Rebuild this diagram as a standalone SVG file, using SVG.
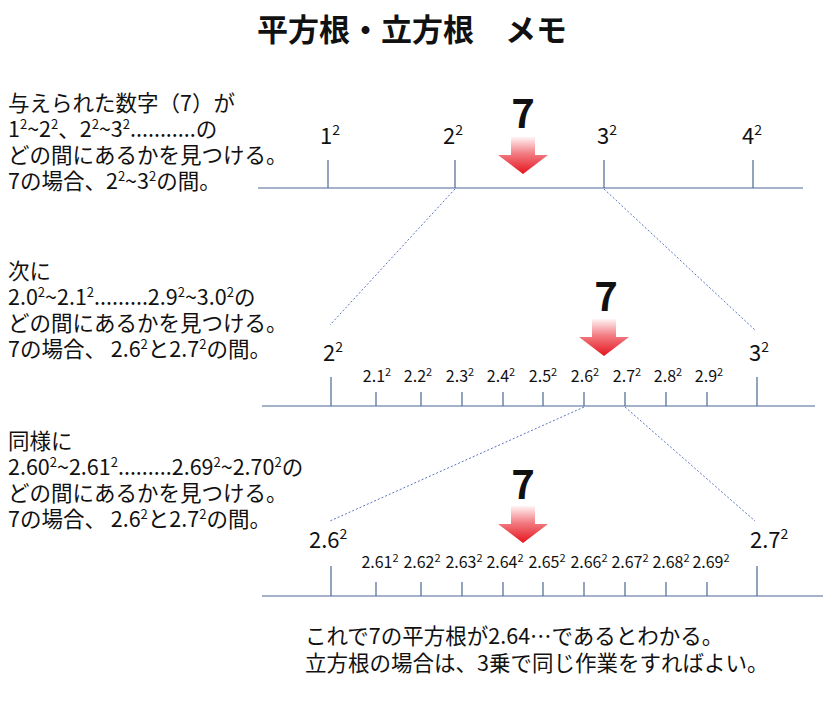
<svg xmlns="http://www.w3.org/2000/svg" width="823" height="704" viewBox="0 0 823 704">
<style>
text{font-family:"Noto Sans CJK JP","Noto Sans",sans-serif;fill:#111}
.title{font-size:31px;font-weight:bold}
.body{font-size:21.5px}
.lab{font-size:22px}
.sm{font-size:16px}
.seven{font-size:40px;font-weight:bold;text-anchor:middle}
.axis{stroke:#4a6896;stroke-width:1.2;fill:none}
.dot{stroke:#5a74c4;stroke-width:1;stroke-dasharray:2 2;fill:none}
</style>
<defs>
<linearGradient id="rg" x1="0" y1="0" x2="0" y2="1">
<stop offset="0" stop-color="#fff4f4"/>
<stop offset="0.45" stop-color="#f27c82"/>
<stop offset="1" stop-color="#e5141e"/>
</linearGradient>
<path id="arrow" d="M-12,0 H12 V18 H25 L0,37 L-25,18 H-12 Z" fill="url(#rg)"/>
</defs>
<rect width="823" height="704" fill="#fff"/>
<text class="title" x="412" y="41" text-anchor="middle">平方根・立方根　メモ</text>

<g id="text1">
<text class="body" x="8" y="111">与えられた数字（7）が</text>
<text class="body" x="8" y="137">1<tspan font-size="13" dy="-8">2</tspan><tspan dy="8">~2</tspan><tspan font-size="13" dy="-8">2</tspan><tspan dy="8">、2</tspan><tspan font-size="13" dy="-8">2</tspan><tspan dy="8">~3</tspan><tspan font-size="13" dy="-8">2</tspan><tspan dy="8">...........の</tspan></text>
<text class="body" x="8" y="163">どの間にあるかを見つける。</text>
<text class="body" x="8" y="189">7の場合、2<tspan font-size="13" dy="-8">2</tspan><tspan dy="8">~3</tspan><tspan font-size="13" dy="-8">2</tspan><tspan dy="8">の間。</tspan></text>
</g>

<g id="text2">
<text class="body" x="8" y="279">次に</text>
<text class="body" x="8" y="305">2.0<tspan font-size="13" dy="-8">2</tspan><tspan dy="8">~2.1</tspan><tspan font-size="13" dy="-8">2</tspan><tspan dy="8">.........2.9</tspan><tspan font-size="13" dy="-8">2</tspan><tspan dy="8">~3.0</tspan><tspan font-size="13" dy="-8">2</tspan><tspan dy="8">の</tspan></text>
<text class="body" x="8" y="331">どの間にあるかを見つける。</text>
<text class="body" x="8" y="357">7の場合、 2.6<tspan font-size="13" dy="-8">2</tspan><tspan dy="8">と2.7</tspan><tspan font-size="13" dy="-8">2</tspan><tspan dy="8">の間。</tspan></text>
</g>

<g id="text3">
<text class="body" x="8" y="449">同様に</text>
<text class="body" x="8" y="475">2.60<tspan font-size="13" dy="-8">2</tspan><tspan dy="8">~2.61</tspan><tspan font-size="13" dy="-8">2</tspan><tspan dy="8">.........2.69</tspan><tspan font-size="13" dy="-8">2</tspan><tspan dy="8">~2.70</tspan><tspan font-size="13" dy="-8">2</tspan><tspan dy="8">の</tspan></text>
<text class="body" x="8" y="501">どの間にあるかを見つける。</text>
<text class="body" x="8" y="527">7の場合、 2.6<tspan font-size="13" dy="-8">2</tspan><tspan dy="8">と2.7</tspan><tspan font-size="13" dy="-8">2</tspan><tspan dy="8">の間。</tspan></text>
</g>

<g id="connectors">
<line class="dot" x1="455" y1="189" x2="330" y2="325"/>
<line class="dot" x1="604" y1="189" x2="755" y2="330"/>
<line class="dot" x1="584" y1="407" x2="330" y2="521"/>
<line class="dot" x1="625" y1="407" x2="755" y2="521"/>
</g>

<g id="line1">
<line class="axis" x1="258" y1="188" x2="803" y2="188"/>
<path class="axis" d="M328,160V188M455,160V188M604,160V188M753,160V188"/>
<text class="lab" x="320" y="144">1<tspan font-size="14" dy="-9">2</tspan></text>
<text class="lab" x="443" y="144">2<tspan font-size="14" dy="-9">2</tspan></text>
<text class="lab" x="597" y="144">3<tspan font-size="14" dy="-9">2</tspan></text>
<text class="lab" x="742" y="144">4<tspan font-size="14" dy="-9">2</tspan></text>
<text class="seven" x="523" y="128">7</text>
<use href="#arrow" x="523" y="137"/>
</g>

<g id="line2">
<line class="axis" x1="262" y1="406" x2="815" y2="406"/>
<path class="axis" d="M331,377V406M757,377V406M376,392V406M421,392V406M462,392V406M503,392V406M543,392V406M584,392V406M625,392V406M666,392V406M707,392V406"/>
<text class="lab" x="323" y="361">2<tspan font-size="14" dy="-9">2</tspan></text>
<text class="lab" x="749" y="361">3<tspan font-size="14" dy="-9">2</tspan></text>
<g text-anchor="middle">
<text class="sm" x="377" y="382">2.1<tspan font-size="11" dy="-6">2</tspan></text>
<text class="sm" x="418" y="382">2.2<tspan font-size="11" dy="-6">2</tspan></text>
<text class="sm" x="460" y="382">2.3<tspan font-size="11" dy="-6">2</tspan></text>
<text class="sm" x="501" y="382">2.4<tspan font-size="11" dy="-6">2</tspan></text>
<text class="sm" x="543" y="382">2.5<tspan font-size="11" dy="-6">2</tspan></text>
<text class="sm" x="585" y="382">2.6<tspan font-size="11" dy="-6">2</tspan></text>
<text class="sm" x="627" y="382">2.7<tspan font-size="11" dy="-6">2</tspan></text>
<text class="sm" x="668" y="382">2.8<tspan font-size="11" dy="-6">2</tspan></text>
<text class="sm" x="709" y="382">2.9<tspan font-size="11" dy="-6">2</tspan></text>
</g>
<text class="seven" x="606" y="311">7</text>
<use href="#arrow" x="604" y="319"/>
</g>

<g id="line3">
<line class="axis" x1="262" y1="596" x2="823" y2="596"/>
<path class="axis" d="M331,566V596M757,566V596M376,582V596M421,582V596M462,582V596M503,582V596M543,582V596M584,582V596M625,582V596M666,582V596M707,582V596"/>
<text class="lab" x="309" y="548">2.6<tspan font-size="14" dy="-9">2</tspan></text>
<text class="lab" x="750" y="548">2.7<tspan font-size="14" dy="-9">2</tspan></text>
<g text-anchor="middle">
<text class="sm" x="380" y="568">2.61<tspan font-size="11" dy="-6">2</tspan></text>
<text class="sm" x="422" y="568">2.62<tspan font-size="11" dy="-6">2</tspan></text>
<text class="sm" x="464" y="568">2.63<tspan font-size="11" dy="-6">2</tspan></text>
<text class="sm" x="505" y="568">2.64<tspan font-size="11" dy="-6">2</tspan></text>
<text class="sm" x="547" y="568">2.65<tspan font-size="11" dy="-6">2</tspan></text>
<text class="sm" x="589" y="568">2.66<tspan font-size="11" dy="-6">2</tspan></text>
<text class="sm" x="630" y="568">2.67<tspan font-size="11" dy="-6">2</tspan></text>
<text class="sm" x="671" y="568">2.68<tspan font-size="11" dy="-6">2</tspan></text>
<text class="sm" x="711" y="568">2.69<tspan font-size="11" dy="-6">2</tspan></text>
</g>
<text class="seven" x="523" y="499">7</text>
<use href="#arrow" x="523" y="506"/>
</g>

<g id="note">
<text class="body" x="305" y="644">これで7の平方根が2.64…であるとわかる。</text>
<text class="body" x="305" y="671">立方根の場合は、3乗で同じ作業をすればよい。</text>
</g>
</svg>
